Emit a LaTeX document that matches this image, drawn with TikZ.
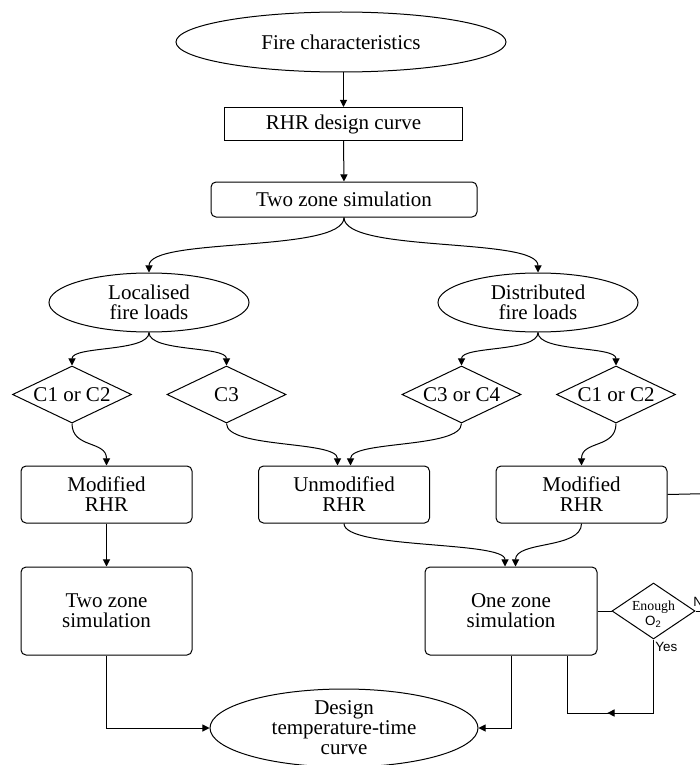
\documentclass[tikz,border=0pt]{standalone}
\usepackage{fontspec}
\setmainfont{Liberation Serif}
\setsansfont{Liberation Sans}
\usetikzlibrary{shapes.geometric,arrows.meta,calc,decorations.markings}
\newcommand{\mainfs}{\fontsize{10.5}{10}\selectfont}
\newcommand{\smallserif}{\fontsize{6.9}{7.4}\selectfont}
\newcommand{\smallsans}{\sffamily\fontsize{6.7}{7}\selectfont}
\begin{document}
\begin{tikzpicture}[x=0.5pt,y=-0.5pt,
  box/.style={draw, line width=0.5pt, inner sep=0pt, align=center, font=\mainfs},
  oval/.style={box, ellipse},
  plainbox/.style={box, rectangle},
  rbox/.style={box, rectangle, rounded corners=2.5pt},
  dia/.style={box, diamond, aspect=2},
  wire/.style={line width=0.5pt},
  conn/.style={wire, -{Triangle[length=3.6pt,width=3.6pt]}},
  scurve/.style={to path={.. controls ($(\tikztostart)!#1!(\tikztostart|-\tikztotarget)$) and ($(\tikztotarget)!#1!(\tikztotarget|-\tikztostart)$) .. (\tikztotarget) \tikztonodes}},
  scurve/.default=0.6,
  tag/.style={inner sep=0pt, font=\smallsans}
]
\useasboundingbox (0,0) rectangle (700,765);
\clip (0,0) rectangle (700,765);

% nodes
\node[oval, minimum width=165pt, minimum height=30pt] (fire) at (341,42) {Fire characteristics};
\node[plainbox, minimum width=119pt, minimum height=16.5pt] (rhr) at (343.5,124) {RHR design curve};
\node[rbox, minimum width=133pt, minimum height=17.5pt] (tz) at (344,199.5) {Two zone simulation};
\node[oval, minimum width=100pt, minimum height=29.5pt] (loc) at (149,302.5) {Localised\\fire loads};
\node[oval, minimum width=100pt, minimum height=29.5pt] (dist) at (538,302.5) {Distributed\\fire loads};

\node[dia, minimum width=59.5pt, minimum height=28.5pt] (d1) at (72,394.5) {C1 or C2};
\node[dia, minimum width=59.5pt, minimum height=28.5pt] (d2) at (226.5,394.5) {C3};
\node[dia, minimum width=59.5pt, minimum height=28.5pt] (d3) at (461.5,394.5) {C3 or C4};
\node[dia, minimum width=59.5pt, minimum height=28.5pt] (d4) at (616,394.5) {C1 or C2};

\node[rbox, minimum width=85.5pt, minimum height=28.5pt] (mod1) at (106.5,494.5) {Modified\\RHR};
\node[rbox, minimum width=85.5pt, minimum height=28.5pt] (um) at (344,494.5) {Unmodified\\RHR};
\node[rbox, minimum width=85.5pt, minimum height=28.5pt] (mod2) at (581.5,494.5) {Modified\\RHR};

\node[rbox, minimum width=85.5pt, minimum height=44pt] (tz2) at (106.5,611) {Two zone\\simulation};
\node[rbox, minimum width=86pt, minimum height=44pt] (oz) at (511,611) {One zone\\simulation};

\node[dia, minimum width=41.5pt, minimum height=28pt,
  label={[align=center, inner sep=0pt, yshift=-1.8pt, font=\smallserif]center:Enough\\{\smallsans O\textsubscript{2}}}] (o2) at (653.5,611) {};

\node[oval, minimum width=134pt, minimum height=39pt,
  label={[align=center, inner sep=0pt, font=\mainfs]center:Design\\temperature-time\\curve}] (des) at (344,728) {};

\node[tag, anchor=north west] (yes) at (655,642) {Yes};
\node[tag, anchor=south west] (no) at (693,607.5) {No};

\coordinate (edgeA) at (712,493.5);
\coordinate (edgeB) at (712,611);
\coordinate (yc) at (567,713);

% connectors
\draw[conn] (rhr.north |- fire.south) -- (rhr.north);
\draw[conn] (rhr.south) -- (tz.north);
\draw[conn] (tz.south) to[scurve=0.65] (loc.north);
\draw[conn] (tz.south) to[scurve=0.65] (dist.north);
\draw[conn] (loc.south) to[scurve] (d1.north);
\draw[conn] (loc.south) to[scurve] (d2.north);
\draw[conn] (dist.south) to[scurve] (d3.north);
\draw[conn] (dist.south) to[scurve] (d4.north);
\draw[conn] (d1.south) to[scurve] (mod1.north);
\draw[conn] (d2.south) to[scurve] ($(um.north)+(-6.5,0)$);
\draw[conn] (d3.south) to[scurve] ($(um.north)+(6.5,0)$);
\draw[conn] (d4.south) to[scurve] (mod2.north);
\draw[conn] (mod1.south) -- (tz2.north);
\draw[conn] (um.south) to[scurve] ($(oz.north)+(-6,0)$);
\draw[conn] (mod2.south) to[scurve] ($(oz.north)+(4.5,0)$);
\draw[wire] (mod2.east) -- (edgeA);
\draw[wire] (oz.east) -- (o2.west);
\draw[wire] (o2.east) -- (edgeB);
\draw[conn] (tz2.south) |- (des.west);
\draw[conn] (oz.south) |- (des.east);
\draw[wire, postaction={decorate},
  decoration={markings, mark=at position 0.55 with {\arrow{Triangle[length=3.6pt,width=3.6pt]}}}]
  (o2.south) -- (o2.south |- yc) -- (yc) -- (yc |- oz.south);
\end{tikzpicture}
\end{document}
